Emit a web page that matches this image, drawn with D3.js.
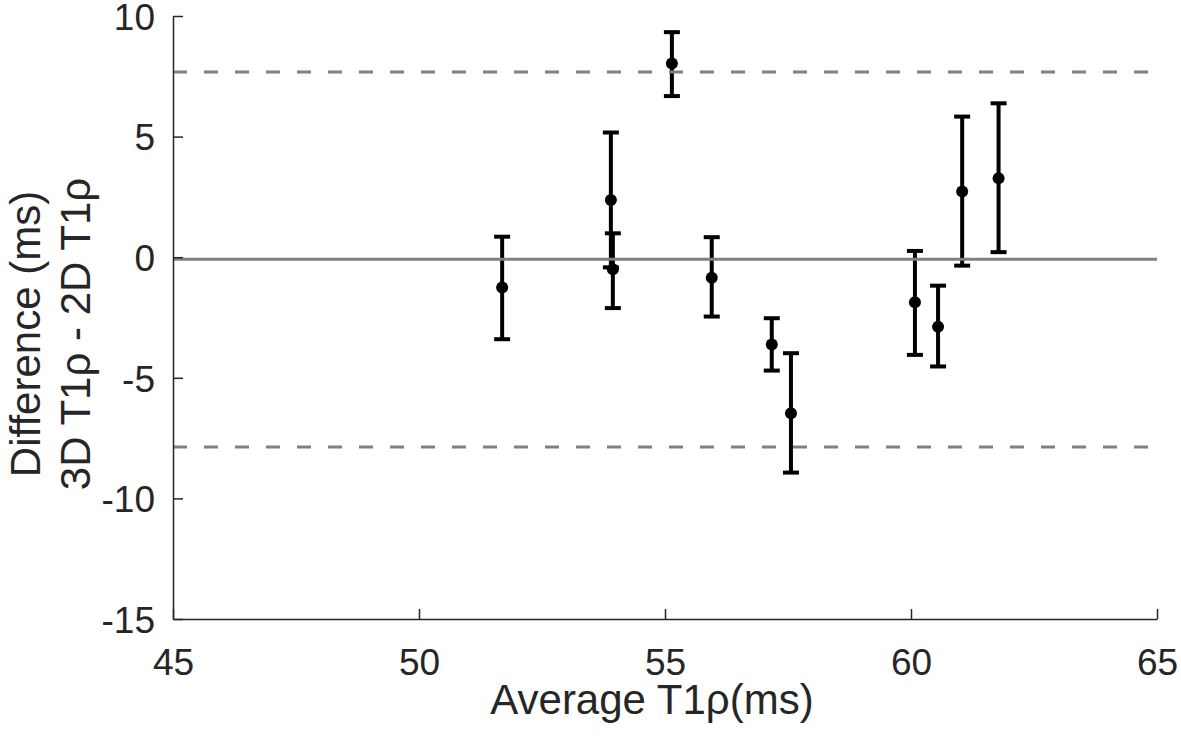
<!DOCTYPE html>
<html>
<head>
<meta charset="utf-8">
<script src="https://cdn.jsdelivr.net/npm/d3@7"></script>
<style>
  html, body { margin: 0; padding: 0; background: #fff; }
  svg { display: block; font-family: "Liberation Sans", Arial, sans-serif; }
</style>
</head>
<body>
<svg id="chart" width="1181" height="744"></svg>
<script>
'use strict';

// Bland-Altman style data
const avgT1rho = [51.69, 53.90, 53.94, 55.14, 55.95, 57.17, 57.56, 60.08, 60.55, 61.04, 61.78];
const diffMean = [-1.26, 2.37, -0.50, 8.03, -0.85, -3.62, -6.47, -1.87, -2.88, 2.72, 3.27];
const diffLow  = [-3.40, -0.42, -2.11, 6.68, -2.46, -4.70, -8.93, -4.05, -4.53, -0.35, 0.21];
const diffHigh = [0.85, 5.17, 0.99, 9.33, 0.83, -2.53, -3.98, 0.26, -1.18, 5.83, 6.38];

const meanDiff  = -0.09;
const limitsLoA = [7.68, -7.87];

const xTicks = [45, 50, 55, 60, 65];
const yTicks = [-15, -10, -5, 0, 5, 10];

const CFG = {
  left: 173, right: 1157, top: 16, bottom: 619,
  font: 37,
  titleFont: 42,
  tickLen: 10,
  cap: 8,
  axisColor: '#262626',
  refColor: '#808080',
};

const svg = d3.select('#chart');

const x = d3.scaleLinear().domain([45, 65]).range([CFG.left, CFG.right]);
const y = d3.scaleLinear().domain([-15, 10]).range([CFG.bottom, CFG.top]);

const points = avgT1rho.map((v, i) => ({
  x: v, m: diffMean[i], lo: diffLow[i], hi: diffHigh[i]
}));

// -- Error bars --
const bars = svg.append('g').attr('class', 'errorbars')
  .attr('stroke', '#000').attr('stroke-width', 4).attr('fill', 'none');

const eb = bars.selectAll('g').data(points).enter().append('g');
eb.append('line')
  .attr('x1', d => x(d.x)).attr('x2', d => x(d.x))
  .attr('y1', d => y(d.hi)).attr('y2', d => y(d.lo));
eb.append('line')
  .attr('x1', d => x(d.x) - CFG.cap).attr('x2', d => x(d.x) + CFG.cap)
  .attr('y1', d => y(d.hi)).attr('y2', d => y(d.hi));
eb.append('line')
  .attr('x1', d => x(d.x) - CFG.cap).attr('x2', d => x(d.x) + CFG.cap)
  .attr('y1', d => y(d.lo)).attr('y2', d => y(d.lo));

svg.append('g').selectAll('circle').data(points).enter().append('circle')
  .attr('cx', d => x(d.x)).attr('cy', d => y(d.m))
  .attr('r', 6).attr('fill', '#000');

// -- Reference lines (drawn over the bars) --
svg.append('line')
  .attr('x1', x(45)).attr('x2', x(65))
  .attr('y1', y(meanDiff)).attr('y2', y(meanDiff))
  .attr('stroke', CFG.refColor).attr('stroke-width', 3);

svg.append('g').selectAll('line').data(limitsLoA).enter().append('line')
  .attr('x1', x(45)).attr('x2', x(65))
  .attr('y1', d => y(d)).attr('y2', d => y(d))
  .attr('stroke', CFG.refColor).attr('stroke-width', 3)
  .attr('stroke-dasharray', '14 17');

// -- Axes (left + bottom only, ticks inward) --
const fmt = d => String(d);   // plain hyphen minus, as in the figure
const xAxis = svg.append('g')
  .attr('transform', `translate(0,${CFG.bottom})`)
  .call(d3.axisBottom(x).tickValues(xTicks).tickFormat(fmt)
    .tickSizeInner(-CFG.tickLen).tickSizeOuter(0).tickPadding(20));
const yAxis = svg.append('g')
  .attr('transform', `translate(${CFG.left},0)`)
  .call(d3.axisLeft(y).tickValues(yTicks).tickFormat(fmt)
    .tickSizeInner(-CFG.tickLen).tickSizeOuter(0).tickPadding(18));

for (const ax of [xAxis, yAxis]) {
  ax.select('.domain').attr('stroke', CFG.axisColor).attr('stroke-width', 1.5);
  ax.selectAll('.tick line').attr('stroke', CFG.axisColor).attr('stroke-width', 1.5);
  ax.selectAll('.tick text')
    .attr('fill', '#262626')
    .attr('font-size', CFG.font)
    .attr('font-family', '"Liberation Sans", Arial, sans-serif');
}
xAxis.selectAll('.tick text').attr('dy', null).attr('y', 56);
yAxis.selectAll('.tick text').attr('dy', '0.36em');

// -- Axis titles --
svg.append('text')
  .attr('x', 652).attr('y', 714)
  .attr('text-anchor', 'middle')
  .attr('font-size', CFG.titleFont).attr('fill', '#262626')
  .text('Average T1ρ(ms)');

const yTitle = svg.append('text')
  .attr('transform', 'translate(0,334) rotate(-90)')
  .attr('text-anchor', 'middle')
  .attr('font-size', CFG.titleFont).attr('fill', '#262626');
yTitle.append('tspan').attr('x', 0).attr('y', 40).text('Difference (ms)');
yTitle.append('tspan').attr('x', 0).attr('y', 90).text('3D T1ρ - 2D T1ρ');
</script>
</body>
</html>
